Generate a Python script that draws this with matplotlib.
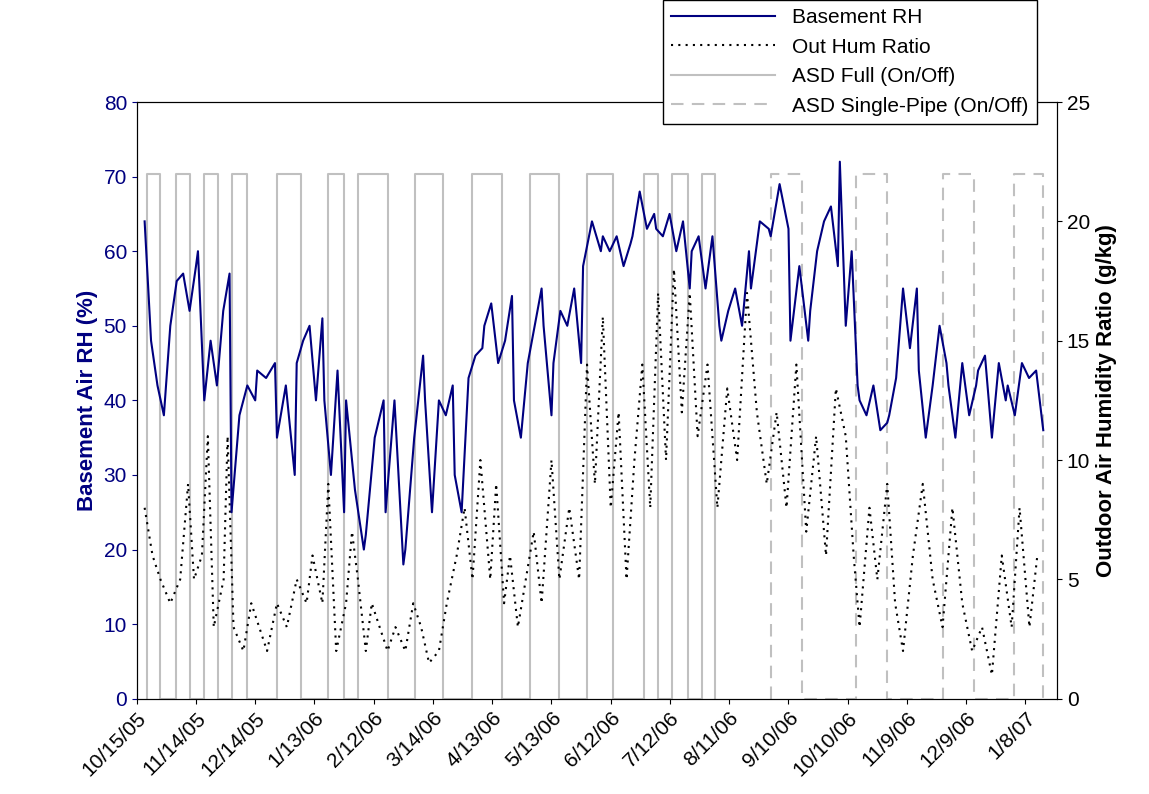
import matplotlib.pyplot as plt
import numpy as np

plt.rcParams['font.family'] = ['Liberation Sans', 'DejaVu Sans']

# day offsets from 10/15/05
tick_days = np.arange(0, 451, 30)
tick_labels = ['10/15/05', '11/14/05', '12/14/05', '1/13/06', '2/12/06', '3/14/06',
               '4/13/06', '5/13/06', '6/12/06', '7/12/06', '8/11/06', '9/10/06',
               '10/10/06', '11/9/06', '12/9/06', '1/8/07']

# basement RH, by segment: (start day, end day, values)
rh_segments = [
    (4, 30, [64, 48, 42, 38, 50, 56, 57, 52, 58]),
    (31, 47, [60, 40, 48, 42, 52, 57]),
    (48, 60, [25, 38, 42, 40]),
    (61, 70, [44, 43, 45]),
    (71, 80, [35, 42, 30]),
    (81, 94, [45, 48, 50, 40, 51]),
    (95, 105, [40, 30, 44, 25]),
    (106, 115, [40, 28, 20]),
    (116, 125, [22, 35, 40]),
    (126, 135, [25, 40, 18]),
    (136, 145, [20, 35, 46]),
    (146, 160, [40, 25, 40, 38, 42]),
    (161, 175, [30, 25, 43, 46, 47]),
    (176, 190, [50, 53, 45, 48, 54]),
    (191, 205, [40, 35, 45, 50, 55]),
    (206, 210, [50, 38]),
    (211, 225, [45, 52, 50, 55, 45]),
    (226, 235, [58, 64, 60]),
    (236, 250, [62, 60, 62, 58, 61]),
    (251, 262, [62, 68, 63, 65]),
    (263, 280, [63, 62, 65, 60, 64, 55]),
    (281, 295, [60, 62, 55, 62, 50]),
    (296, 310, [48, 52, 55, 50, 60]),
    (311, 320, [55, 64, 63]),
    (321, 330, [62, 69, 63]),
    (331, 340, [48, 58, 48]),
    (341, 355, [52, 60, 64, 66, 58]),
    (356, 365, [72, 50, 60, 42]),
    (366, 380, [40, 38, 42, 36, 37]),
    (381, 395, [38, 43, 55, 47, 55]),
    (396, 410, [44, 35, 42, 50, 45]),
    (411, 425, [42, 35, 45, 38, 42]),
    (426, 440, [44, 46, 35, 45, 40]),
    (441, 459, [42, 38, 45, 43, 44, 36]),
]

# outdoor humidity ratio (g/kg)
hum_days = [4, 8, 12, 17, 22, 26, 29, 33, 36, 39, 44, 46, 49, 54, 58, 62, 66, 71, 76, 81,
            86, 89, 94, 97, 101, 106, 109, 112, 116, 119, 123, 127, 131, 136, 140, 144, 148,
            153, 157, 162, 166, 170, 174, 179, 182, 186, 189, 193, 197, 201, 205, 210, 214,
            219, 224, 228, 232, 236, 240, 244, 248, 252, 256, 260, 264, 268, 272, 276, 280,
            284, 289, 294, 299, 304, 309, 314, 319, 324, 329, 334, 339, 344, 349, 354, 359,
            363, 366, 371, 375, 380, 384, 388, 393, 398, 403, 408, 413, 418, 423, 428, 433,
            438, 443, 447, 452, 456]
hum_vals = [8, 6, 5, 4, 5, 9, 5, 6, 11, 3, 5, 11, 3, 2, 4, 3, 2, 4, 3, 5,
            4, 6, 4, 9, 2, 4, 7, 5, 2, 4, 3, 2, 3, 2, 4, 3, 1.5,
            2, 4, 6, 8, 5, 10, 5, 9, 4, 6, 3, 5, 7, 4, 10, 5,
            8, 5, 14, 9, 16, 8, 12, 5, 10, 14, 8, 17, 10, 18, 12, 17,
            11, 14, 8, 13, 10, 17, 12, 9, 12, 8, 14, 7, 11, 6, 13, 11,
            6, 3, 8, 5, 9, 4, 2, 6, 9, 5, 3, 8, 4, 2, 3, 1, 6,
            3, 8, 3, 6]

# on/off periods (day ranges)
asd_full = [(5, 12), (20, 27), (34, 41), (48, 56), (71, 83), (97, 105), (112, 127),
            (141, 155), (170, 185), (199, 214), (228, 241), (257, 264), (271, 279), (286, 293)]
asd_single = [(321, 337), (364, 380), (408, 424), (444, 459)]
on_level = 22

rh_days = np.concatenate([np.linspace(a, b, len(v)) for a, b, v in rh_segments])
rh_vals = np.concatenate([v for a, b, v in rh_segments])


def pulses(periods):
    xs, ys = [], []
    for a, b in periods:
        xs += [a, a, b, b]
        ys += [0, on_level, on_level, 0]
    return xs, ys


fig = plt.figure(figsize=(11.49, 7.94), dpi=100)
ax = fig.add_axes([0.119, 0.12, 0.801, 0.7515])
ax2 = ax.twinx()

fx, fy = pulses(asd_full)
sx, sy = pulses(asd_single)
l3, = ax2.plot(fx, fy, color='#c0c0c0', lw=1.5, label='ASD Full (On/Off)')
l4, = ax2.plot(sx, sy, color='#c0c0c0', lw=1.5, ls=(0, (6, 4)), label='ASD Single-Pipe (On/Off)')
l2, = ax2.plot(hum_days, hum_vals, color='black', lw=1.5, ls=(0, (1, 2.5)), label='Out Hum Ratio')
l1, = ax.plot(rh_days, rh_vals, color='#000080', lw=1.5, label='Basement RH')
ax.set_zorder(ax2.get_zorder() + 1)
ax.patch.set_visible(False)

ax.set_xlim(0, 466)
ax.set_ylim(0, 80)
ax2.set_ylim(0, 25)
ax.set_yticks(range(0, 81, 10))
ax2.set_yticks(range(0, 26, 5))
ax.set_xticks(tick_days)
ax.set_xticklabels(tick_labels, rotation=45, ha='right', rotation_mode='anchor')
ax.tick_params(axis='y', colors='#000080', labelsize=15)
ax.tick_params(axis='x', labelsize=15)
ax2.tick_params(axis='y', labelsize=15)
ax.set_ylabel('Basement Air RH (%)', color='#000080', fontsize=16, fontweight='bold')
ax2.set_ylabel('Outdoor Air Humidity Ratio (g/kg)', fontsize=16, fontweight='bold')

fig.legend(handles=[l1, l2, l3, l4], loc='upper left', bbox_to_anchor=(0.577, 1.0),
           fontsize=15, frameon=True, fancybox=False, edgecolor='black',
           framealpha=1, handlelength=5, borderaxespad=0)

fig.savefig('out.png', dpi=100)
